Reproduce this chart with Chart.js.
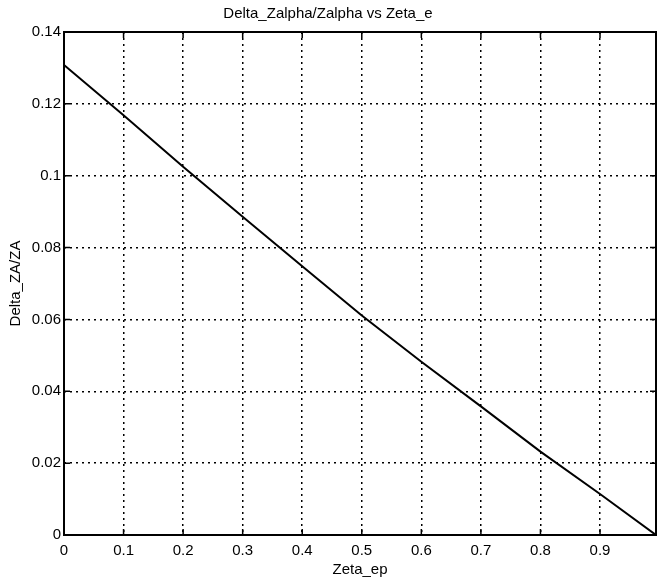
<!DOCTYPE html>
<html>
<head>
<meta charset="utf-8">
<script src="https://cdn.jsdelivr.net/npm/chart.js@4"></script>
<style>
  html, body { margin: 0; padding: 0; background: #fff; }
  #wrap { width: 657px; height: 584px; }
</style>
</head>
<body>
<div id="wrap"><canvas id="myChart" width="657" height="584"></canvas></div>
<script>
// data
var zetaEp   = [0, 0.1, 0.2, 0.3, 0.4, 0.5, 0.6, 0.7, 0.8, 0.9, 0.994];
var deltaZA  = [0.1308, 0.1168, 0.1025, 0.0886, 0.0748, 0.0611, 0.0482, 0.0358, 0.0232, 0.0114, 0];
var xTicks   = [0, 0.1, 0.2, 0.3, 0.4, 0.5, 0.6, 0.7, 0.8, 0.9];
var yTicks   = [0, 0.02, 0.04, 0.06, 0.08, 0.1, 0.12, 0.14];

var points = zetaEp.map(function (x, i) { return { x: x, y: deltaZA[i] }; });
var font = 'Liberation Sans, Arial, Helvetica, sans-serif';

//枠と内向きの目盛り (matlab風)
var boxPlugin = {
  id: 'box',
  afterDraw: function (chart) {
    var ctx = chart.ctx, a = chart.chartArea;
    var xs = chart.scales.x, ys = chart.scales.y;
    ctx.save();
    ctx.strokeStyle = '#000';
    ctx.lineWidth = 2;
    ctx.strokeRect(a.left, a.top, a.right - a.left, a.bottom - a.top);
    ctx.lineWidth = 1.5;
    ctx.beginPath();
    xTicks.forEach(function (v) {
      var px = xs.getPixelForValue(v);
      ctx.moveTo(px, a.bottom); ctx.lineTo(px, a.bottom - 6);
      ctx.moveTo(px, a.top); ctx.lineTo(px, a.top + 6);
    });
    yTicks.forEach(function (v) {
      var py = ys.getPixelForValue(v);
      ctx.moveTo(a.left, py); ctx.lineTo(a.left + 6, py);
      ctx.moveTo(a.right, py); ctx.lineTo(a.right - 6, py);
    });
    ctx.stroke();
    ctx.restore();
  }
};

function fmt(v) { return String(Number(v.toFixed(2))); }

new Chart(document.getElementById('myChart'), {
  type: 'scatter',
  data: {
    datasets: [{
      data: points,
      showLine: true,
      borderColor: '#000',
      borderWidth: 2,
      pointRadius: 0,
      tension: 0
    }]
  },
  options: {
    responsive: false,
    animation: false,
    layout: { padding: { right: 1 } },
    plugins: {
      legend: { display: false },
      tooltip: { enabled: false },
      title: {
        display: true,
        text: 'Delta_Zalpha/Zalpha vs Zeta_e',
        color: '#000',
        font: { family: font, size: 15, weight: 'normal' },
        padding: { top: 5, bottom: 9 }
      }
    },
    scales: {
      x: {
        type: 'linear',
        min: 0,
        max: 0.994,
        afterFit: function (s) { s.height = 49; },
        afterBuildTicks: function (s) { s.ticks = xTicks.map(function (v) { return { value: v }; }); },
        ticks: { color: '#000', padding: 7, maxRotation: 0, font: { family: font, size: 15 }, callback: fmt },
        grid: { color: '#000', lineWidth: 1.5, drawTicks: false },
        border: { display: false, dash: [2, 4] },
        title: { display: true, text: 'Zeta_ep', color: '#000', font: { family: font, size: 15 }, padding: { top: 0, bottom: 5 } }
      },
      y: {
        type: 'linear',
        min: 0,
        max: 0.14,
        afterFit: function (s) { s.width = 64; },
        afterBuildTicks: function (s) { s.ticks = yTicks.map(function (v) { return { value: v }; }); },
        ticks: { color: '#000', padding: 3, font: { family: font, size: 15 }, callback: fmt },
        grid: { color: '#000', lineWidth: 1.5, drawTicks: false },
        border: { display: false, dash: [2, 4] },
        title: { display: true, text: 'Delta_ZA/ZA', color: '#000', font: { family: font, size: 15 }, padding: { top: 7, bottom: 0 } }
      }
    }
  },
  plugins: [boxPlugin]
});
</script>
</body>
</html>
